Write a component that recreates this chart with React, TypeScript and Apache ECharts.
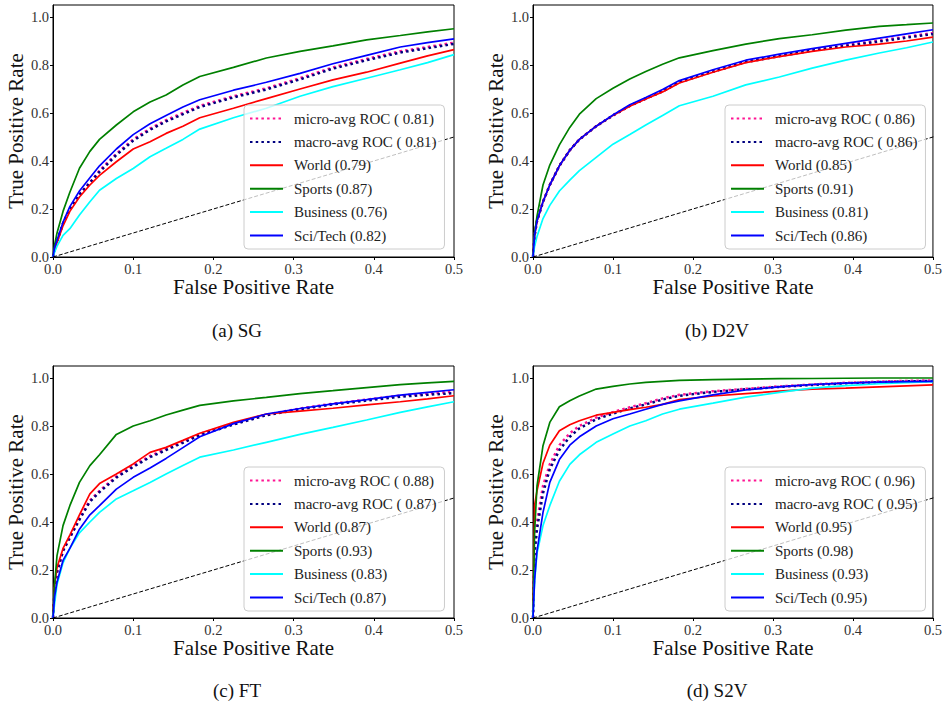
import React, { useEffect, useRef } from "react";
import * as echarts from "echarts";

// False positive rate sample points (shared by all curves)
const FPR = [0, 0.002, 0.005, 0.0125, 0.021, 0.033, 0.046, 0.058, 0.079, 0.1, 0.121, 0.141, 0.162, 0.183, 0.225, 0.266, 0.308, 0.349, 0.391, 0.433, 0.467, 0.5];

// (a) SG
const SG_MICRO = [0, 0.035, 0.065, 0.14, 0.2, 0.26, 0.31, 0.36, 0.43, 0.49, 0.535, 0.57, 0.6, 0.63, 0.67, 0.703, 0.745, 0.79, 0.825, 0.857, 0.875, 0.893];
const SG_MACRO = [0, 0.035, 0.065, 0.14, 0.2, 0.26, 0.31, 0.355, 0.425, 0.485, 0.53, 0.565, 0.595, 0.625, 0.665, 0.698, 0.74, 0.785, 0.82, 0.852, 0.87, 0.888];
const SG_WORLD = [0, 0.03, 0.06, 0.13, 0.19, 0.25, 0.3, 0.34, 0.397, 0.45, 0.48, 0.515, 0.545, 0.58, 0.62, 0.66, 0.7, 0.738, 0.77, 0.808, 0.838, 0.864];
const SG_SPORTS = [0, 0.05, 0.1, 0.19, 0.27, 0.37, 0.44, 0.49, 0.55, 0.605, 0.646, 0.675, 0.717, 0.752, 0.79, 0.829, 0.857, 0.88, 0.905, 0.923, 0.938, 0.951];
const SG_BUSINESS = [0, 0.02, 0.045, 0.09, 0.118, 0.175, 0.23, 0.278, 0.327, 0.369, 0.418, 0.453, 0.49, 0.533, 0.58, 0.62, 0.67, 0.71, 0.745, 0.78, 0.81, 0.843];
const SG_SCITECH = [0, 0.04, 0.07, 0.145, 0.21, 0.275, 0.33, 0.38, 0.45, 0.51, 0.555, 0.59, 0.625, 0.655, 0.695, 0.728, 0.765, 0.805, 0.84, 0.875, 0.893, 0.909];
const SG_AUC = ["0.81", "0.81", "0.79", "0.87", "0.76", "0.82"];

// (b) D2V
const D2V_MICRO = [0, 0.09, 0.15, 0.23, 0.3, 0.38, 0.445, 0.49, 0.545, 0.59, 0.63, 0.66, 0.692, 0.73, 0.775, 0.815, 0.84, 0.863, 0.883, 0.902, 0.918, 0.933];
const D2V_MACRO = [0, 0.09, 0.15, 0.23, 0.3, 0.38, 0.445, 0.49, 0.545, 0.59, 0.63, 0.66, 0.69, 0.728, 0.772, 0.812, 0.837, 0.86, 0.88, 0.898, 0.914, 0.929];
const D2V_WORLD = [0, 0.09, 0.15, 0.23, 0.3, 0.38, 0.445, 0.49, 0.545, 0.59, 0.628, 0.658, 0.688, 0.725, 0.77, 0.81, 0.835, 0.857, 0.875, 0.887, 0.9, 0.916];
const D2V_SPORTS = [0, 0.1, 0.17, 0.3, 0.383, 0.467, 0.54, 0.595, 0.66, 0.703, 0.742, 0.773, 0.803, 0.83, 0.86, 0.887, 0.91, 0.926, 0.945, 0.961, 0.968, 0.975];
const D2V_BUSINESS = [0, 0.045, 0.085, 0.16, 0.215, 0.275, 0.32, 0.36, 0.415, 0.47, 0.51, 0.55, 0.59, 0.63, 0.67, 0.717, 0.75, 0.787, 0.82, 0.85, 0.872, 0.896];
const D2V_SCITECH = [0, 0.09, 0.15, 0.23, 0.3, 0.38, 0.445, 0.49, 0.545, 0.592, 0.634, 0.665, 0.698, 0.735, 0.78, 0.82, 0.845, 0.868, 0.89, 0.912, 0.93, 0.947];
const D2V_AUC = ["0.86", "0.86", "0.85", "0.91", "0.81", "0.86"];

// (c) FT
const FT_MICRO = [0, 0.12, 0.19, 0.28, 0.335, 0.415, 0.49, 0.53, 0.59, 0.635, 0.675, 0.705, 0.735, 0.767, 0.81, 0.848, 0.873, 0.893, 0.91, 0.927, 0.935, 0.943];
const FT_MACRO = [0, 0.12, 0.19, 0.28, 0.335, 0.41, 0.485, 0.525, 0.585, 0.63, 0.67, 0.7, 0.73, 0.762, 0.806, 0.845, 0.87, 0.89, 0.906, 0.922, 0.93, 0.937];
const FT_WORLD = [0, 0.14, 0.21, 0.29, 0.345, 0.43, 0.517, 0.56, 0.6, 0.642, 0.69, 0.711, 0.74, 0.77, 0.815, 0.85, 0.862, 0.874, 0.888, 0.901, 0.913, 0.926];
const FT_SPORTS = [0, 0.14, 0.26, 0.385, 0.468, 0.565, 0.635, 0.68, 0.765, 0.8, 0.822, 0.846, 0.866, 0.886, 0.905, 0.919, 0.935, 0.947, 0.96, 0.972, 0.98, 0.986];
const FT_BUSINESS = [0, 0.06, 0.14, 0.23, 0.29, 0.355, 0.4, 0.44, 0.496, 0.53, 0.565, 0.6, 0.635, 0.67, 0.7, 0.732, 0.765, 0.794, 0.825, 0.857, 0.88, 0.901];
const FT_SCITECH = [0, 0.09, 0.15, 0.24, 0.29, 0.37, 0.43, 0.468, 0.537, 0.586, 0.625, 0.665, 0.71, 0.755, 0.81, 0.85, 0.873, 0.892, 0.91, 0.929, 0.94, 0.951];
const FT_AUC = ["0.88", "0.87", "0.87", "0.93", "0.83", "0.87"];

// (d) S2V
const S2V_MICRO = [0, 0.3, 0.4, 0.55, 0.64, 0.72, 0.77, 0.8, 0.835, 0.858, 0.878, 0.895, 0.915, 0.93, 0.945, 0.955, 0.965, 0.973, 0.98, 0.985, 0.988, 0.99];
const S2V_MACRO = [0, 0.27, 0.37, 0.52, 0.62, 0.7, 0.755, 0.79, 0.828, 0.852, 0.873, 0.89, 0.91, 0.926, 0.942, 0.953, 0.963, 0.971, 0.978, 0.983, 0.986, 0.988];
const S2V_WORLD = [0, 0.47, 0.53, 0.645, 0.72, 0.78, 0.805, 0.822, 0.845, 0.857, 0.868, 0.878, 0.89, 0.91, 0.925, 0.935, 0.945, 0.954, 0.958, 0.963, 0.967, 0.971];
const S2V_SPORTS = [0, 0.36, 0.55, 0.718, 0.815, 0.88, 0.905, 0.925, 0.954, 0.965, 0.975, 0.982, 0.986, 0.99, 0.993, 0.995, 0.997, 0.998, 0.999, 1.0, 1.0, 1.0];
const S2V_BUSINESS = [0, 0.15, 0.27, 0.385, 0.468, 0.57, 0.64, 0.68, 0.732, 0.767, 0.8, 0.822, 0.85, 0.87, 0.895, 0.92, 0.94, 0.958, 0.968, 0.976, 0.981, 0.985];
const S2V_SCITECH = [0, 0.16, 0.28, 0.44, 0.565, 0.66, 0.72, 0.755, 0.8, 0.83, 0.85, 0.87, 0.89, 0.905, 0.93, 0.95, 0.963, 0.973, 0.979, 0.983, 0.985, 0.986];
const S2V_AUC = ["0.96", "0.95", "0.95", "0.98", "0.93", "0.95"];

const CHANCE = [[0, 0], [1, 1]];
const Y_TICKS_MAX = 1.05;
const CAPTIONS = ["(a) SG", "(b) D2V", "(c) FT", "(d) S2V"];
const CURVE_LABELS = ["micro-avg ROC", "macro-avg ROC", "World", "Sports", "Business", "Sci/Tech"];

const COLORS = ["#ff1493", "#000080", "#ff0000", "#008000", "#00ffff", "#0000ff"];
const FONT = "'Liberation Serif', 'DejaVu Serif', serif";

const PANEL_CURVES = [
  [SG_MICRO, SG_MACRO, SG_WORLD, SG_SPORTS, SG_BUSINESS, SG_SCITECH],
  [D2V_MICRO, D2V_MACRO, D2V_WORLD, D2V_SPORTS, D2V_BUSINESS, D2V_SCITECH],
  [FT_MICRO, FT_MACRO, FT_WORLD, FT_SPORTS, FT_BUSINESS, FT_SCITECH],
  [S2V_MICRO, S2V_MACRO, S2V_WORLD, S2V_SPORTS, S2V_BUSINESS, S2V_SCITECH],
];
const PANEL_AUC = [SG_AUC, D2V_AUC, FT_AUC, S2V_AUC];

const GRID_POS = [
  { left: 53, top: 5, width: 401, height: 252 },
  { left: 533, top: 5, width: 401, height: 252 },
  { left: 53, top: 366, width: 401, height: 252 },
  { left: 533, top: 366, width: 401, height: 252 },
];
const LEGEND_POS = [
  { left: 244, top: 105 },
  { left: 725, top: 105 },
  { left: 244, top: 467 },
  { left: 725, top: 467 },
];
const CAPTION_POS = [
  { x: 237, y: 330 },
  { x: 717, y: 330 },
  { x: 237, y: 690 },
  { x: 717, y: 690 },
];

function labelFor(i: number, auc: string) {
  return i < 2 ? `${CURVE_LABELS[i]} ( ${auc})` : `${CURVE_LABELS[i]} (${auc})`;
}

function buildOption() {
  const grid: any[] = [];
  const xAxis: any[] = [];
  const yAxis: any[] = [];
  const legend: any[] = [];
  const series: any[] = [];
  const graphic: any[] = [];

  for (let p = 0; p < 4; p++) {
    grid.push({
      ...GRID_POS[p],
      show: true,
      borderColor: "#000",
      borderWidth: 1,
      backgroundColor: "transparent",
      containLabel: false,
    });
    xAxis.push({
      type: "value",
      gridIndex: p,
      min: 0,
      max: 0.5,
      interval: 0.1,
      name: "False Positive Rate",
      nameLocation: "middle",
      nameGap: 19,
      nameTextStyle: { fontFamily: FONT, fontSize: 21, color: "#111" },
      axisLine: { show: true, onZero: false, lineStyle: { color: "#000", width: 1 } },
      axisTick: { show: true, length: 3, inside: false, lineStyle: { color: "#000" } },
      axisLabel: {
        fontFamily: FONT,
        fontSize: 14.5,
        color: "#333",
        margin: 4,
        formatter: (v: number) => v.toFixed(1),
      },
      splitLine: { show: false },
    });
    yAxis.push({
      type: "value",
      gridIndex: p,
      min: 0,
      max: Y_TICKS_MAX,
      interval: 0.2,
      name: "True Positive Rate",
      nameLocation: "middle",
      nameGap: 25,
      nameTextStyle: { fontFamily: FONT, fontSize: 21, color: "#111" },
      axisLine: { show: true, onZero: false, lineStyle: { color: "#000", width: 1 } },
      axisTick: { show: true, length: 3, inside: false, lineStyle: { color: "#000" } },
      axisLabel: {
        fontFamily: FONT,
        fontSize: 14.5,
        color: "#333",
        margin: 4,
        showMaxLabel: false,
        formatter: (v: number) => (v > 1.01 ? "" : v.toFixed(1)),
      },
      splitLine: { show: false },
    });

    const names: string[] = [];
    PANEL_CURVES[p].forEach((curve, i) => {
      const name = labelFor(i, PANEL_AUC[p][i]);
      names.push(name);
      const dotted = i < 2;
      series.push({
        type: "line",
        name,
        xAxisIndex: p,
        yAxisIndex: p,
        data: FPR.map((x, k) => [x, curve[k]]),
        showSymbol: false,
        symbol: "none",
        clip: true,
        silent: true,
        lineStyle: {
          color: COLORS[i],
          width: dotted ? 2.5 : 1.7,
          type: dotted ? [2.5, 3.2] : "solid",
        },
        itemStyle: { color: COLORS[i] },
        z: 2,
      });
    });
    series.push({
      type: "line",
      name: "chance-" + p,
      xAxisIndex: p,
      yAxisIndex: p,
      data: CHANCE,
      showSymbol: false,
      symbol: "none",
      clip: true,
      silent: true,
      lineStyle: { color: "#000", width: 1, type: [4, 2] },
      z: 3,
    });

    legend.push({
      ...LEGEND_POS[p],
      orient: "vertical",
      data: names,
      selectedMode: false,
      itemWidth: 33,
      itemHeight: 14,
      itemGap: 8.4,
      padding: [6, 8, 6, 5],
      backgroundColor: "rgba(255,255,255,0.75)",
      borderColor: "#cccccc",
      borderWidth: 1,
      borderRadius: 4,
      itemStyle: { opacity: 0 },
      textStyle: { fontFamily: FONT, fontSize: 15, color: "#222", padding: [0, 0, 0, 6] },
    });

    graphic.push({
      type: "text",
      x: CAPTION_POS[p].x,
      y: CAPTION_POS[p].y,
      style: {
        text: CAPTIONS[p],
        fontFamily: FONT,
        fontSize: 19,
        fill: "#111",
        textAlign: "center",
        textVerticalAlign: "middle",
      },
    });
  }

  return {
    animation: false,
    backgroundColor: "#fff",
    grid,
    xAxis,
    yAxis,
    legend,
    series,
    graphic,
  };
}

export default function App() {
  const ref = useRef<HTMLDivElement>(null);
  useEffect(() => {
    if (!ref.current) return;
    const chart = echarts.init(ref.current, undefined, { renderer: "svg" });
    chart.setOption(buildOption() as any);
    return () => chart.dispose();
  }, []);
  return (
    <div
      ref={ref}
      style={{ position: "fixed", left: 0, top: 0, width: 945, height: 704, background: "#fff" }}
    />
  );
}
